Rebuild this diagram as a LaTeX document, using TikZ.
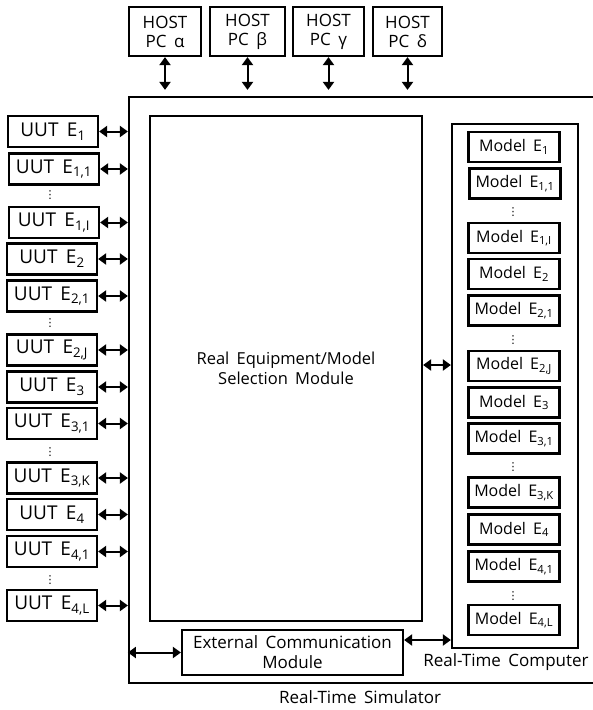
\documentclass[tikz,border=0pt]{standalone}
\usepackage{fontspec}
\setmainfont{Open Sans}[WordSpace=1.7]
\newfontfamily\dejavu{DejaVu Sans}
\usetikzlibrary{arrows.meta}
\newcommand{\sbs}[1]{\textsubscript{#1}}
\tikzset{
  box/.style={draw, line width=2.2pt, inner sep=0pt, align=center},
  uut/.style={box, minimum width=90pt, minimum height=31pt, font=\fontsize{19}{20}\selectfont},
  model/.style={box, minimum width=91pt, minimum height=30pt, font=\fontsize{16}{18}\selectfont},
  host/.style={box, minimum height=49pt, font=\fontsize{17}{19}\selectfont},
  dd/.style={line width=2pt, {Triangle[length=8pt,width=11pt]}-{Triangle[length=8pt,width=11pt]}},
  vdot/.style={font=\dejavu\fontsize{11}{11}\selectfont, inner sep=0pt},
  lbl/.style={font=\fontsize{17}{20}\selectfont, align=center}
}
\begin{document}
\begin{tikzpicture}[x=1pt,y=-1pt]
\useasboundingbox (0,0) rectangle (593,710);
% outer simulator box (right side cut off)
\node[box, minimum width=471pt, minimum height=586pt] (sim) at (364.5,390) {};
\node[lbl] (simlbl) at (360,697) {Real-Time Simulator};
% selection module
\node[box, minimum width=272pt, minimum height=505pt, font=\fontsize{16.5}{20}\selectfont] (sel) at (286,368.5) {Real Equipment/Model\\Selection Module};
% external comm
\node[box, minimum width=221pt, minimum height=45pt, font=\fontsize{17}{20}\selectfont] (ecm) at (292.5,652.5) {External Communication\\Module};
% real-time computer
\node[box, minimum width=126pt, minimum height=524pt] (rtc) at (515,386) {};
\node[lbl] (rtclbl) at (506,662) {Real-Time Computer};
% hosts
\node[host, minimum width=72pt] (ha) at (165,31.5) {HOST\\PC α};
\node[host, minimum width=75pt] (hb) at (247.5,31.5) {HOST\\PC β};
\node[host, minimum width=71pt] (hg) at (328.5,31.5) {HOST\\PC γ};
\node[host, minimum width=69pt] (hd) at (407.5,31.5) {HOST\\PC δ};
\foreach \h in {ha,hb,hg,hd}{
  \draw[dd, shorten >=6pt] (\h.south) -- (\h.south |- sim.north);
}
% UUT boxes
\node[uut] (u1)  at (53,131.5) {UUT E\sbs{1}};
\node[uut] (u11) at (54,169)   {UUT E\sbs{1,1}};
\node[vdot] (d1) at (50,195) {⋮};
\node[uut] (u1i) at (54,222.5) {UUT E\sbs{1,I}};
\node[uut] (u2)  at (52,259)   {UUT E\sbs{2}};
\node[uut] (u21) at (52,296)   {UUT E\sbs{2,1}};
\node[vdot] (d2) at (50,323) {⋮};
\node[uut] (u2j) at (52,350)   {UUT E\sbs{2,J}};
\node[uut] (u3)  at (52,387)   {UUT E\sbs{3}};
\node[uut] (u31) at (52,423.5) {UUT E\sbs{3,1}};
\node[vdot] (d3) at (50,452) {⋮};
\node[uut] (u3k) at (52,478)   {UUT E\sbs{3,K}};
\node[uut] (u4)  at (52,514.5) {UUT E\sbs{4}};
\node[uut] (u41) at (52,551.5) {UUT E\sbs{4,1}};
\node[vdot] (d4) at (50,580) {⋮};
\node[uut] (u4l) at (52,605.5) {UUT E\sbs{4,L}};
\foreach \u in {u1,u11,u1i,u2,u21,u2j,u3,u31,u3k,u4,u41,u4l}{
  \draw[dd] (\u.east) -- (\u.east -| sim.west);
}
% Model boxes
\node[model] (m1)  at (514,147)   {Model E\sbs{1}};
\node[model] (m11) at (515,183.5) {Model E\sbs{1,1}};
\node[vdot] (e1) at (513,212) {⋮};
\node[model] (m1i) at (514,238)   {Model E\sbs{1,I}};
\node[model] (m2)  at (514,274)   {Model E\sbs{2}};
\node[model] (m21) at (514,310.5) {Model E\sbs{2,1}};
\node[vdot] (e2) at (513,340) {⋮};
\node[model] (m2j) at (514,366)   {Model E\sbs{2,J}};
\node[model] (m3)  at (514,402.5) {Model E\sbs{3}};
\node[model] (m31) at (514,438.5) {Model E\sbs{3,1}};
\node[vdot] (e3) at (513,467) {⋮};
\node[model] (m3k) at (514,492.5) {Model E\sbs{3,K}};
\node[model] (m4)  at (514,529.5) {Model E\sbs{4}};
\node[model] (m41) at (514,566.5) {Model E\sbs{4,1}};
\node[vdot] (e4) at (513,596) {⋮};
\node[model] (m4l) at (514,620)   {Model E\sbs{4,L}};
% internal connectors
\draw[dd] ([yshift=3.5pt]sel.east) -- ([yshift=3.5pt]sel.east -| rtc.west);
\draw[dd] (ecm.west -| sim.west) -- (ecm.west);
\draw[dd] ([yshift=12.5pt]ecm.east) -- ([yshift=12.5pt]ecm.east -| rtc.west);
\end{tikzpicture}
\end{document}
